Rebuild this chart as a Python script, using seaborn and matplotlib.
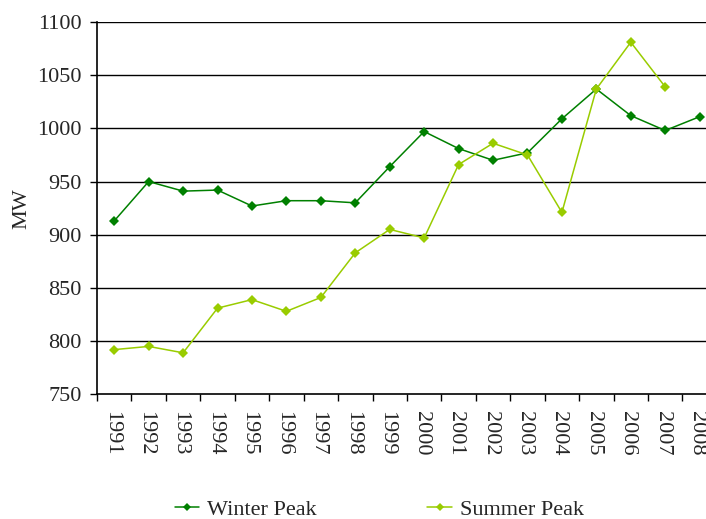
import numpy as np
import pandas as pd
import matplotlib
matplotlib.use("Agg")
import matplotlib.pyplot as plt
import matplotlib.transforms as mtransforms
import seaborn as sns

# DATA
years = [str(y) for y in range(1991, 2009)]
winter_peak = [913, 950, 941, 942, 927, 932, 932, 930, 964,
               997, 981, 970, 977, 1009, 1037, 1012, 998, 1011]
summer_peak = [792, 795, 789, 831, 839, 828, 841, 883, 905,
               897, 966, 986, 975, 921, 1037, 1081, 1039, np.nan]

sns.set_theme(style="white")
plt.rcParams["font.family"] = ["Liberation Serif", "DejaVu Serif"]

df = pd.DataFrame({
    "pos": list(range(len(years))) * 2,
    "MW": winter_peak + summer_peak,
    "serie": ["Winter Peak"] * len(years) + ["Summer Peak"] * len(years),
})

fig = plt.figure(figsize=(7.06, 5.19), dpi=100)
ax = fig.add_axes([0.1374, 0.2403, 0.878, 0.7173])

# lineas de cuadricula
for v in range(800, 1101, 50):
    ax.axhline(v, color="black", linewidth=1.0, zorder=1)

sns.lineplot(
    data=df,
    x="pos",
    y="MW",
    hue="serie",
    palette={"Winter Peak": "#008000", "Summer Peak": "#99CC00"},
    marker="D",
    markersize=5,
    markeredgewidth=0,
    linewidth=1.1,
    ax=ax,
    legend=False,
    zorder=3,
)

ax.set_xlim(-0.5, len(years) - 0.5)
ax.set_ylim(750, 1100)
ax.set_yticks(range(750, 1101, 50))
ax.set_xticks(range(len(years)))
ax.set_xticklabels(years, rotation=270)
ax.set_xticks(np.arange(-0.5, len(years), 1), minor=True)

ax.tick_params(axis="x", which="major", length=0, pad=12, labelsize=16)
ax.tick_params(axis="x", which="minor", length=5, width=1, color="black",
               direction="out", bottom=True)
ax.tick_params(axis="y", which="major", length=5, width=1, color="black",
               direction="out", left=True, labelsize=16, pad=6)

# correr un poco las etiquetas de los años a la izquierda
desplazamiento = mtransforms.ScaledTranslation(-3 / 100, 0, fig.dpi_scale_trans)
for etiqueta in ax.get_xticklabels():
    etiqueta.set_transform(etiqueta.get_transform() + desplazamiento)

ax.set_xlabel("")
ax.set_ylabel("MW", fontsize=16, labelpad=4)

for lado in ["top", "right"]:
    ax.spines[lado].set_visible(False)
for lado in ["left", "bottom"]:
    ax.spines[lado].set_color("black")
    ax.spines[lado].set_linewidth(1.2)

# LEYENDA
handles = [
    plt.Line2D([], [], color="#008000", marker="D", markersize=4,
               markeredgewidth=0, linewidth=1.1),
    plt.Line2D([], [], color="#99CC00", marker="D", markersize=4,
               markeredgewidth=0, linewidth=1.1),
]
fig.legend(
    handles,
    ["Winter Peak", "Summer Peak"],
    loc="lower center",
    bbox_to_anchor=(0.537, -0.04),
    ncol=2,
    frameon=False,
    fontsize=16,
    handlelength=1.1,
    handletextpad=0.35,
    columnspacing=5.0,
)

fig.savefig("out.png", dpi=100)
plt.close()
